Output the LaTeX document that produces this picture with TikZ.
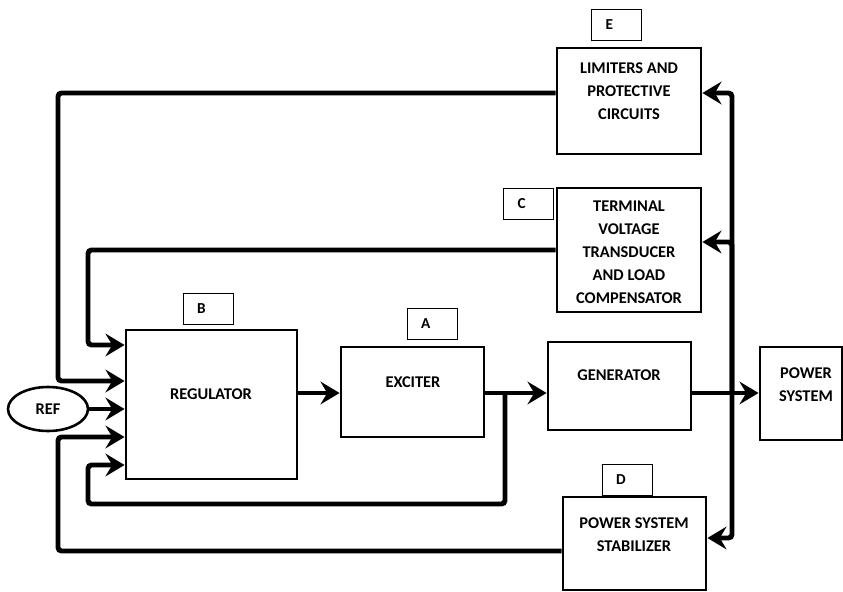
\documentclass[tikz,border=0pt]{standalone}
\usepackage{fontspec}
\setmainfont{Carlito}
\usepackage{tikz}
\usetikzlibrary{arrows.meta}
\usetikzlibrary{shapes.geometric}
\usetikzlibrary{positioning}
\tikzset{>={Stealth[length=0.57cm,width=0.68cm,inset=0.2cm]}}
\tikzstyle{block} = [draw, rectangle, line width=2.5pt, inner sep=0pt]
\tikzstyle{blocktext} = [align=center, inner sep=0pt,
font=\bfseries\fontsize{14}{19.6}\selectfont]
\tikzstyle{tag} = [draw, rectangle, line width=0.7pt, minimum width=1.5cm,
minimum height=0.93cm, inner xsep=0.42cm, text width=0.66cm, align=left,
font=\bfseries\fontsize{13}{15}\selectfont]
\tikzstyle{line} = [draw, line width=4.2pt, ->, rounded corners=3pt]

\begin{document}
\begin{tikzpicture}[x=0.03cm, y=-0.03cm]
	\useasboundingbox (0,0) rectangle (843,592);
	%% Blocks
	\node [block, minimum width=5.13cm, minimum height=4.47cm] (reg) at (211.5,404.5) {};
	\node [block, minimum width=4.29cm, minimum height=2.7cm] (exc) at (412.5,392) {};
	\node [block, minimum width=4.29cm, minimum height=2.64cm] (gen) at (619.5,386) {};
	\node [block, minimum width=2.46cm, minimum height=2.79cm] (ps) at (801,393.5) {};
	\node [block, minimum width=4.29cm, minimum height=2.79cm] (stab) at (634.5,543.5) {};
	\node [block, minimum width=4.32cm, minimum height=3.18cm] (lim) at (629,101) {};
	\node [block, minimum width=4.32cm, minimum height=3.72cm] (term) at (629,250) {};
	\node [draw, ellipse, line width=2.2pt, minimum width=2.4cm, minimum height=1.32cm,
		inner sep=0pt, font=\bfseries\fontsize{14}{16}\selectfont] (ref) at (48,409) {REF};
	%% Texts
	\node [blocktext] (regtxt) at (211,394) {REGULATOR};
	\node [blocktext] (exctxt) at (413,382) {EXCITER};
	\node [blocktext] (gentxt) at (619,375) {GENERATOR};
	\node [blocktext] (pstxt) at (806,385) {POWER\\SYSTEM};
	\node [blocktext] (stabtxt) at (634,535) {POWER SYSTEM\\STABILIZER};
	\node [blocktext] (limtxt) at (629,91) {LIMITERS AND\\PROTECTIVE\\CIRCUITS};
	\node [blocktext] (termtxt) at (629,252) {TERMINAL\\VOLTAGE\\TRANSDUCER\\AND LOAD\\COMPENSATOR};
	%% Tags
	\node [tag] (tagB) at (208,308.5) {B};
	\node [tag] (tagA) at (432,323.5) {A};
	\node [tag] (tagE) at (616.5,24.5) {E};
	\node [tag] (tagC) at (528.5,203.5) {C};
	\node [tag] (tagD) at (627,479.5) {D};
	%% Regulator inputs
	\foreach \n/\y in {1/345,2/381,3/409,4/437,5/465}
		\coordinate (in\n) at (reg.west |- 0,\y);
	\coordinate (tap) at (505,393);
	\coordinate (bus) at (732,393);
	%% Forward path
	\path [line] (reg.east |- 0,393) -- (exc.west |- 0,393);
	\path [line] (tap -| exc.east) -- (gen.west |- tap);
	\path [line] (gen.east |- bus) -- (ps.west |- bus);
	%% Measured signals
	\path [line] (bus) |- (lim.east |- 0,93);
	\path [line] (bus) |- (term.east |- 0,242);
	\path [line] (bus) |- (stab.east |- 0,538);
	%% Feedbacks
	\path [line] (term.west) -| (88,345) -- (in1);
	\path [line] (lim.west |- 0,93) -| (58,381) -- (in2);
	\path [line] (ref) -- (in3);
	\path [line] (stab.west |- 0,551) -| (58,437) -- (in4);
	\path [line] (tap) |- (88,504) |- (in5);
\end{tikzpicture}
\end{document}
